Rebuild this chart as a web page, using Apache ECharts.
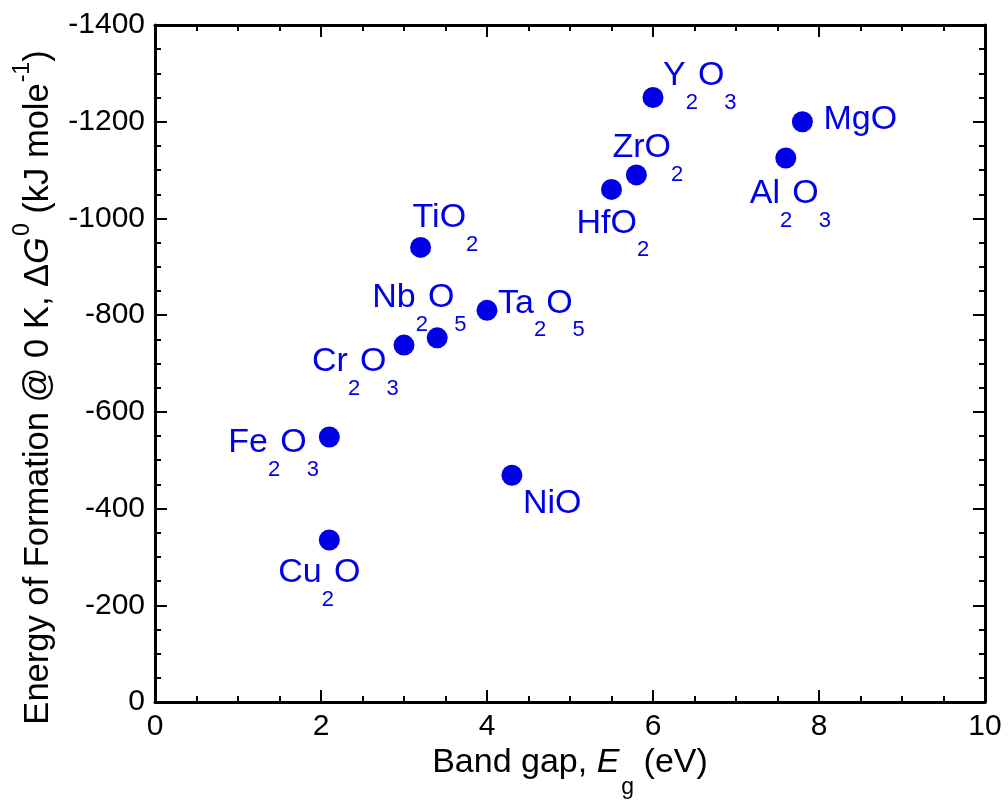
<!DOCTYPE html>
<html>
<head>
<meta charset="utf-8">
<script src="https://cdn.jsdelivr.net/npm/echarts@6/dist/echarts.min.js"></script>
<style>
  html, body { margin: 0; padding: 0; background: #ffffff; }
  #chart { width: 1008px; height: 800px; }
</style>
</head>
<body>
<div id="chart"></div>
<script>
// Oxides: band gap (eV) and energy of formation at 0 K (kJ/mole)
const oxides = ['Y2O3', 'MgO', 'Al2O3', 'ZrO2', 'HfO2', 'TiO2', 'Ta2O5', 'Nb2O5', 'Cr2O3', 'Fe2O3', 'NiO', 'Cu2O'];
const bandGap = [6.0, 7.8, 7.6, 5.8, 5.5, 3.2, 4.0, 3.4, 3.0, 2.1, 4.3, 2.1];
const formationEnergy = [-1250, -1200, -1125, -1090, -1060, -940, -810, -753, -738, -548, -469, -335];

// Axis ranges: [min, max, interval]
const xRange = [0, 10, 2];
const yRange = [-1400, 0, 200];

// Where each formula label sits relative to its dot: [dx, dy] to the left edge / middle of the text
const labelOffsets = [
  [10, -22], [21, -2], [-36, 36], [-24, -27], [-35, 34], [-8, -30],
  [11, -7], [-65, -40], [-92, 17], [-101, 6], [11, 28], [-51, 33]
];

const FONT = '"Liberation Sans", Arial, Helvetica, sans-serif';
const BLUE = '#0000e6';

// Turn a formula such as "Al2O3" into rich text with subscripted digits
function formulaRich(name) {
  return name.replace(/(\d+)|([^\d]+)/g, (all, digits, letters) =>
    digits ? '{s|' + digits + '}' : '{m|' + letters + '}');
}

const labelRich = {
  m: { fontSize: 34, lineHeight: 34, color: BLUE, fontFamily: FONT },
  s: { fontSize: 22, lineHeight: 34, color: BLUE, fontFamily: FONT, padding: [54, 0, 0, 0] }
};

const points = oxides.map((name, i) => ({
  name: name,
  value: [bandGap[i], formationEnergy[i]],
  label: { offset: labelOffsets[i] }
}));

function axisCommon() {
  return {
    type: 'value',
    nameMoveOverlap: false,
    axisLine: { show: true, onZero: false, lineStyle: { color: '#000', width: 3 } },
    axisTick: { show: true, inside: true, length: 12, lineStyle: { color: '#000', width: 2 } },
    minorTick: { show: true, splitNumber: 4, length: 6, lineStyle: { color: '#000', width: 2 } },
    splitLine: { show: false },
    minorSplitLine: { show: false }
  };
}

const tickLabel = (show) => ({
  show: show, fontSize: 30, color: '#000', fontFamily: FONT, margin: 10,
  formatter: v => String(v)
});

function xAxisDef(position, showLabels) {
  return Object.assign(axisCommon(), {
    position: position,
    min: xRange[0], max: xRange[1], interval: xRange[2],
    axisLabel: tickLabel(showLabels)
  });
}

function yAxisDef(position, showLabels) {
  return Object.assign(axisCommon(), {
    position: position,
    inverse: true,
    min: yRange[0], max: yRange[1], interval: yRange[2],
    axisLabel: tickLabel(showLabels)
  });
}

const xMain = xAxisDef('bottom', true);
xMain.name = '{m|Band gap, }{i|E}{s|g}{m| (eV)}';
xMain.nameLocation = 'middle';
xMain.nameGap = 61;
xMain.nameTextStyle = {
  verticalAlign: 'middle',
  rich: {
    m: { fontSize: 34, lineHeight: 34, color: '#000', fontFamily: FONT },
    i: { fontSize: 34, lineHeight: 34, color: '#000', fontFamily: FONT, fontStyle: 'italic' },
    s: { fontSize: 23, lineHeight: 34, color: '#000', fontFamily: FONT, padding: [50, 0, 0, 2] }
  }
};

const yMain = yAxisDef('left', true);
yMain.name = '{m|Energy of Formation @ 0 K, \u0394}{i|G}{p|0}{m| (kJ mole}{p|-1}{m|)}';
yMain.nameLocation = 'middle';
yMain.nameRotate = 90;
yMain.nameGap = 117;
yMain.nameTextStyle = {
  verticalAlign: 'middle',
  padding: [0, 48, 0, 0],
  rich: {
    m: { fontSize: 34.5, lineHeight: 34, color: '#000', fontFamily: FONT },
    i: { fontSize: 34.5, lineHeight: 34, color: '#000', fontFamily: FONT, fontStyle: 'italic' },
    p: { fontSize: 23, lineHeight: 34, color: '#000', fontFamily: FONT, padding: [0, 0, 30, 1] }
  }
};

const chart = echarts.init(document.getElementById('chart'), null, { renderer: 'canvas' });
chart.setOption({
  backgroundColor: '#ffffff',
  animation: false,
  grid: { left: 155, right: 23, top: 25, bottom: 98, containLabel: false, outerBoundsMode: 'none' },
  xAxis: [xMain, xAxisDef('top', false)],
  yAxis: [yMain, yAxisDef('right', false)],
  series: [{
    type: 'scatter',
    xAxisIndex: 0,
    yAxisIndex: 0,
    symbol: 'circle',
    symbolSize: 21,
    itemStyle: { color: BLUE, opacity: 1 },
    label: {
      show: true,
      position: ['50%', '50%'],
      align: 'left',
      verticalAlign: 'middle',
      formatter: p => formulaRich(p.name),
      rich: labelRich
    },
    emphasis: { disabled: true },
    data: points
  }]
});
</script>
</body>
</html>
